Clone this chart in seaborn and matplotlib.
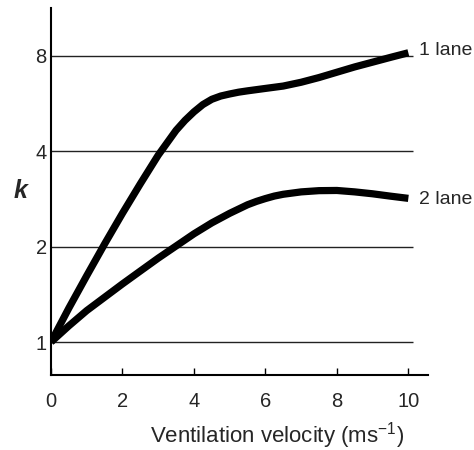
import numpy as np
import pandas as pd
import matplotlib
matplotlib.use("Agg")
import matplotlib.pyplot as plt
import seaborn as sns

# Data
velocity_1 = [0, 0.5, 1.0, 1.5, 2.0, 2.5, 3.0, 3.5, 3.75, 4.0, 4.25, 4.5, 4.75, 5.0, 5.25, 5.5, 6.0, 6.5, 7.0, 7.5, 8.0, 8.5, 9.0, 9.5, 10.0]
k_1lane = [1.0, 1.28, 1.62, 2.04, 2.55, 3.16, 3.89, 4.66, 5.01, 5.33, 5.62, 5.84, 5.98, 6.07, 6.15, 6.21, 6.32, 6.43, 6.61, 6.84, 7.11, 7.39, 7.65, 7.92, 8.19]
velocity_2 = [0, 0.5, 1.0, 1.5, 2.0, 2.5, 3.0, 3.5, 4.0, 4.5, 5.0, 5.5, 5.75, 6.0, 6.25, 6.5, 7.0, 7.5, 8.0, 8.5, 9.0, 9.5, 10.0]
k_2lane = [1.0, 1.125, 1.257, 1.385, 1.526, 1.676, 1.84, 2.01, 2.196, 2.378, 2.549, 2.713, 2.78, 2.838, 2.89, 2.928, 2.979, 3.006, 3.01, 2.979, 2.938, 2.888, 2.842]
series_names = ["1 lane", "2 lane"]
label_k = [8.31, 2.81]
y_ticks = [1, 2, 4, 8]
x_ticks = [0, 2, 4, 6, 8, 10]

df = pd.DataFrame({
    "velocity": velocity_1 + velocity_2,
    "k": k_1lane + k_2lane,
    "series": [series_names[0]] * len(velocity_1) + [series_names[1]] * len(velocity_2),
})

sns.set_style("ticks")
plt.rcParams["font.family"] = ["Liberation Sans", "DejaVu Sans"]
plt.rcParams["mathtext.default"] = "regular"

fig = plt.figure(figsize=(4.74, 4.5), dpi=100)
ax = fig.add_axes([51 / 474, 1 - 375 / 450, (428 - 51) / 474, (375 - 8) / 450])

ax.hlines(y_ticks, 0, 10.13, colors="#222222", linewidth=1.0, zorder=1, clip_on=False)

sns.lineplot(data=df, x="velocity", y="k", units="series", estimator=None,
             color="black", linewidth=5.2, ax=ax, legend=False, zorder=3,
             solid_capstyle="butt", solid_joinstyle="round")

ax.set_yscale("log", base=2)
ax.set_xlim(0, 10.55)
ax.set_ylim(0.787, 11.34)
ax.set_yticks(y_ticks)
ax.set_yticklabels([str(t) for t in y_ticks])
ax.minorticks_off()
ax.set_xticks(x_ticks)
ax.set_xticklabels([str(t) for t in x_ticks])

ax.tick_params(axis="x", direction="in", length=5, width=1, pad=12, labelsize=14.5, color="black")
ax.tick_params(axis="y", length=0, pad=3, labelsize=14.5)

for s in ["top", "right"]:
    ax.spines[s].set_visible(False)
for s in ["left", "bottom"]:
    ax.spines[s].set_color("black")
    ax.spines[s].set_linewidth(1.5)

ax.set_xlabel("Ventilation velocity (ms$^{-1}$)", fontsize=16, va="center")
ax.xaxis.set_label_coords(0.60, -0.166)
ax.set_ylabel("k", fontsize=18, fontweight="bold", fontstyle="italic", rotation=0, va="center", ha="center")
ax.yaxis.set_label_coords(-0.082, 0.5)

ax.text(10.3, label_k[0], series_names[0], fontsize=14, va="center", ha="left", clip_on=False)
ax.text(10.3, label_k[1], series_names[1], fontsize=14, va="center", ha="left", clip_on=False)

fig.savefig("out.png", dpi=100)
